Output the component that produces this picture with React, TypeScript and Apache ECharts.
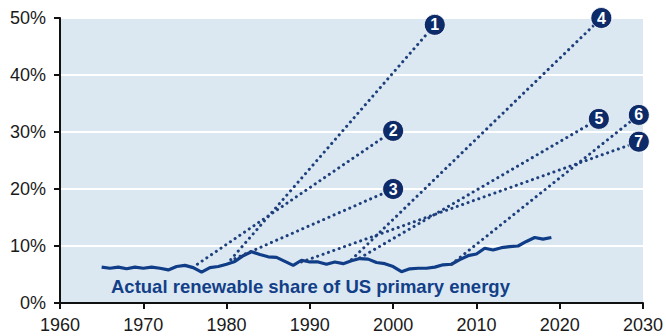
import React, { useEffect, useRef } from "react";
import * as echarts from "echarts";

const actualYears = [
  1965, 1966, 1967, 1968, 1969, 1970, 1971, 1972, 1973, 1974, 1975, 1976, 1977, 1978, 1979,
  1980, 1981, 1982, 1983, 1984, 1985, 1986, 1987, 1988, 1989, 1990, 1991, 1992, 1993, 1994,
  1995, 1996, 1997, 1998, 1999, 2000, 2001, 2002, 2003, 2004, 2005, 2006, 2007, 2008, 2009,
  2010, 2011, 2012, 2013, 2014, 2015, 2016, 2017, 2018, 2019,
];
const actualShare = [
  6.3, 6.1, 6.3, 6.0, 6.3, 6.1, 6.3, 6.1, 5.8, 6.4, 6.6, 6.2, 5.4, 6.2, 6.4,
  6.8, 7.3, 8.3, 9.0, 8.5, 8.1, 8.0, 7.3, 6.6, 7.5, 7.2, 7.2, 6.8, 7.2, 6.9,
  7.4, 7.8, 7.7, 7.1, 6.9, 6.4, 5.5, 6.0, 6.1, 6.1, 6.3, 6.7, 6.8, 7.6, 8.3,
  8.6, 9.6, 9.3, 9.7, 9.9, 10.0, 10.8, 11.5, 11.2, 11.5,
];

const projLabels = ["1", "2", "3", "4", "5", "6", "7"];
const projStartYear = [1980.5, 1976.5, 1981, 1995, 1996, 2007, 1989];
const projStartShare = [7.6, 6.8, 7.8, 7.6, 7.9, 6.8, 7.2];
const projEndYear = [2005, 2000, 2000, 2025, 2024.7, 2029.5, 2029.5];
const projEndShare = [48.8, 30.2, 20, 50, 32.3, 33, 28.3];

const xTicks = [1960, 1970, 1980, 1990, 2000, 2010, 2020, 2030];
const yTicks = [0, 10, 20, 30, 40, 50];

const annotation = "Actual renewable share of US primary energy";

export default function App() {
  const ref = useRef<HTMLDivElement>(null);
  useEffect(() => {
    if (!ref.current) return;
    const chart = echarts.init(ref.current, undefined, { renderer: "svg" });
    const font = "'Liberation Sans', Arial, sans-serif";
    const projSeries = projLabels.map((lab, i) => ({
      type: "line",
      name: "proj" + lab,
      z: 3,
      data: [
        { value: [projStartYear[i], projStartShare[i]], symbol: "none" },
        {
          value: [projEndYear[i], projEndShare[i]],
          symbol: "circle",
          symbolSize: 21,
          label: {
            show: true,
            position: "inside",
            formatter: lab,
            color: "#ffffff",
            fontWeight: "bold",
            fontSize: 16,
            fontFamily: font,
          },
        },
      ],
      lineStyle: { color: "#1d3f7c", width: 3, type: [0.1, 5.6], cap: "round" },
      itemStyle: { color: "#0c2b68", borderColor: "#ffffff", borderWidth: 0.8 },
      silent: true,
    }));
    chart.setOption({
      animation: false,
      grid: {
        left: 60,
        top: 18,
        width: 585,
        height: 285,
        show: true,
        backgroundColor: "#dce8f1",
        borderWidth: 0,
      },
      xAxis: {
        type: "value",
        min: xTicks[0],
        max: xTicks[xTicks.length - 1],
        interval: 10,
        axisLine: { show: true, onZero: false, lineStyle: { color: "#111", width: 2 } },
        axisTick: { show: true, length: 6, lineStyle: { color: "#111", width: 2 } },
        splitLine: { show: false },
        axisLabel: {
          color: "#1a1a1a",
          fontSize: 18,
          fontFamily: font,
          margin: 13,
          formatter: (v: number) => String(v),
        },
      },
      yAxis: {
        type: "value",
        min: yTicks[0],
        max: yTicks[yTicks.length - 1],
        interval: 10,
        axisLine: { show: true, lineStyle: { color: "#111", width: 2 } },
        axisTick: { show: true, length: 6, lineStyle: { color: "#111", width: 2 } },
        splitLine: { show: true, lineStyle: { color: "#ffffff", width: 2 } },
        axisLabel: {
          color: "#1a1a1a",
          fontSize: 18,
          fontFamily: font,
          margin: 14,
          formatter: (v: number) => v + "%",
        },
      },
      series: [
        {
          type: "line",
          name: "actual",
          z: 2,
          data: actualYears.map((y, i) => [y, actualShare[i]]),
          symbol: "none",
          lineStyle: { color: "#103d87", width: 3.2 },
          silent: true,
        },
        ...projSeries,
      ],
      graphic: [
        {
          type: "text",
          left: 111,
          top: 277,
          style: {
            text: annotation,
            fill: "#123f88",
            font: "bold 18.5px 'Liberation Sans', Arial, sans-serif",
          },
          z: 10,
        },
      ],
    });
    return () => chart.dispose();
  }, []);
  return (
    <div
      ref={ref}
      style={{ position: "absolute", left: 0, top: 0, width: 666, height: 336 }}
    />
  );
}
